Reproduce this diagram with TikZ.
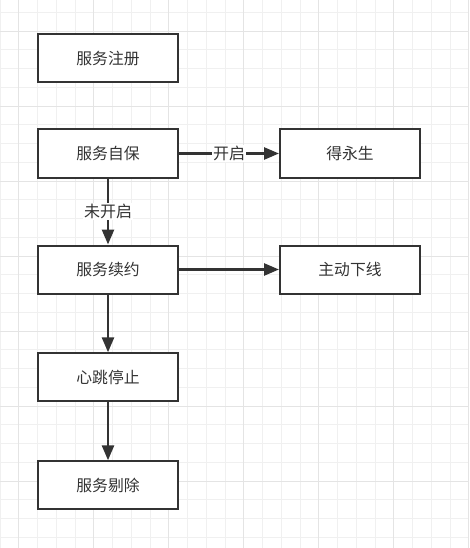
\documentclass[tikz,border=0pt]{standalone}
\usepackage{fontspec}
\newfontfamily\cjk{Noto Sans CJK SC}
\usetikzlibrary{arrows.meta}

\definecolor{gridminor}{HTML}{F0F0F0}
\definecolor{gridmajor}{HTML}{E4E4E4}
\definecolor{ink}{HTML}{333333}

\begin{document}
\begin{tikzpicture}[x=1pt,y=-1pt,
    box/.style={draw=ink, line width=2pt, fill=white, minimum width=140pt,
                minimum height=48pt, inner sep=0pt, text=ink,
                font=\cjk\fontsize{15.8}{18}\selectfont},
    link/.style={draw=ink, line width=2.6pt, -{Triangle[length=15pt,width=12pt]}},
    tag/.style={fill=white, inner sep=1pt, text=ink,
                font=\cjk\fontsize{16}{18}\selectfont}]
    \useasboundingbox (0,0) rectangle (470,548);

    % the grid
    \foreach \i in {0,...,25}
        \draw [gridminor, line width=1pt] (\i*18.75,0) -- (\i*18.75,548);
    \foreach \j in {0,...,28}
        \draw [gridminor, line width=1pt] (0,12.3+\j*18.75) -- (469,12.3+\j*18.75);
    \foreach \i in {1,5,...,25}
        \draw [gridmajor, line width=1pt] (\i*18.75,0) -- (\i*18.75,548);
    \foreach \j in {1,5,...,25}
        \draw [gridmajor, line width=1pt] (0,12.3+\j*18.75) -- (469,12.3+\j*18.75);

    % the boxes
    \node[box] (register) at (108,58.5)  {服务注册};
    \node[box] (protect)  at (108,153.5) {服务自保};
    \node[box] (forever)  at (350,153.5) {得永生};
    \node[box] (renew)    at (108,269.5) {服务续约};
    \node[box] (offline)  at (350,269.5) {主动下线};
    \node[box] (beat)     at (108,377.3) {心跳停止};
    \node[box] (evict)    at (108,485.3) {服务剔除};

    % the links
    \draw [link] (protect) -- node[tag] {开启} (forever);
    \draw [link] (protect) -- node[tag] {未开启} (renew);
    \draw [link] (renew)   -- (offline);
    \draw [link] (renew)   -- (beat);
    \draw [link] (beat)    -- (evict);
\end{tikzpicture}
\end{document}
